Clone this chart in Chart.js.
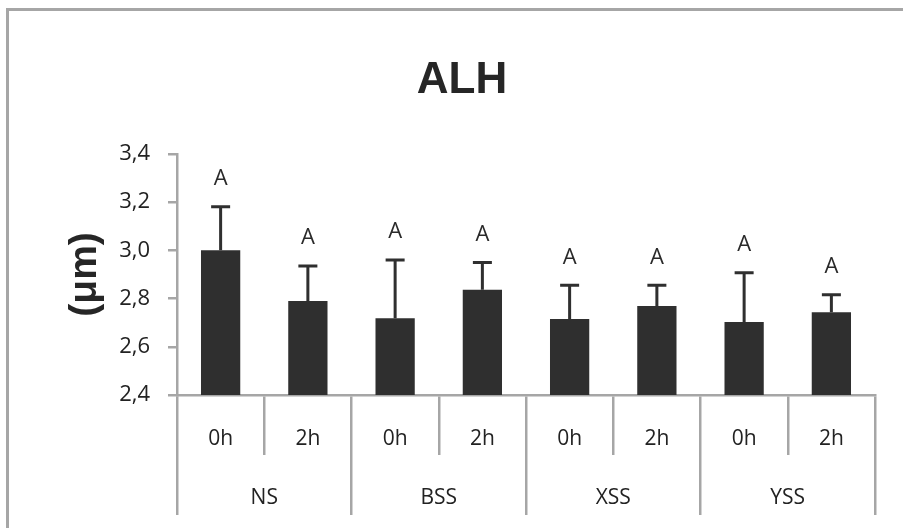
<!DOCTYPE html>
<html>
<head>
<meta charset="utf-8">
<script src="https://cdn.jsdelivr.net/npm/chart.js@4.4.1/dist/chart.umd.min.js"></script>
<style>
  body { margin: 0; background: #fff; }
  #frame { position: absolute; left: 6px; top: 8px; width: 920px; height: 540px; border: 3px solid #a6a6a6; }
  #wrap { position: absolute; left: 0; top: 0; width: 903px; height: 528px; }
</style>
</head>
<body>
<div id="frame"></div>
<div id="wrap"><canvas id="alh_chart"></canvas></div>
<script>
// data
const times = ['0h', '2h', '0h', '2h', '0h', '2h', '0h', '2h'];
const groups = ['NS', 'BSS', 'XSS', 'YSS'];
const means = [3.00, 2.79, 2.718, 2.836, 2.715, 2.769, 2.703, 2.743];
const errors = [0.18, 0.145, 0.242, 0.113, 0.14, 0.086, 0.204, 0.073];
const letters = ['A', 'A', 'A', 'A', 'A', 'A', 'A', 'A'];

const GRAY = '#a6a6a6';
const DARK = '#2f2f2f';

// error bars + letters, placed through the y scale
const errorBars = {
    id: 'errorBars',
    afterDatasetsDraw(chart) {
        const ctx = chart.ctx;
        const y = chart.scales.y;
        const meta = chart.getDatasetMeta(0);
        ctx.save();
        ctx.strokeStyle = DARK;
        ctx.lineWidth = 3;
        meta.data.forEach((bar, i) => {
            const top = y.getPixelForValue(means[i]);
            const hi = y.getPixelForValue(means[i] + errors[i]);
            ctx.beginPath();
            ctx.moveTo(bar.x, top);
            ctx.lineTo(bar.x, hi);
            ctx.moveTo(bar.x - 9.5, hi);
            ctx.lineTo(bar.x + 9.5, hi);
            ctx.stroke();
            ctx.fillStyle = '#2a2a2a';
            ctx.font = '22px "Open Sans", sans-serif';
            ctx.textAlign = 'center';
            ctx.textBaseline = 'middle';
            ctx.fillText(letters[i], bar.x, hi - 28);
        });
        ctx.restore();
    }
};

(function alh_chart()
{
    const sample = document.getElementById('alh_chart');
    const myChart = new Chart(sample, {
        type: 'bar',
        data: {
            labels: times,
            datasets: [{
                data: means,
                backgroundColor: DARK,
                barPercentage: 0.45,
                categoryPercentage: 1.0
            }]
        },
        options: {
            responsive: true,
            maintainAspectRatio: false,
            animation: false,
            layout: { padding: { left: 49, right: 28, top: 20, bottom: 13 } },
            plugins: {
                legend: { display: false },
                tooltip: { enabled: false },
                title: {
                    display: true,
                    text: 'ALH',
                    color: '#262626',
                    font: { family: '"Liberation Sans Narrow", "Liberation Sans", sans-serif', size: 44, weight: 'bold' },
                    padding: { top: 34, bottom: 47 }
                }
            },
            scales: {
                y: {
                    min: 2.4,
                    max: 3.4,
                    afterFit: (s) => { s.width = 128; },
                    ticks: {
                        stepSize: 0.2,
                        padding: 18,
                        color: '#222',
                        font: { family: '"Open Sans", sans-serif', size: 22 },
                        callback: (v) => v.toFixed(1).replace('.', ',')
                    },
                    grid: { drawOnChartArea: false, drawTicks: true, tickLength: 9, color: GRAY, lineWidth: 2.5 },
                    border: { display: true, color: GRAY, width: 2.5 },
                    title: {
                        display: true,
                        text: '(μm)',
                        color: '#262626',
                        font: { family: '"Liberation Sans", sans-serif', size: 39, weight: 'bold' },
                        padding: { top: 13, bottom: 0 }
                    }
                },
                x: {
                    offset: true,
                    afterFit: (s) => { s.height = 60; },
                    ticks: {
                        padding: -29,
                        color: '#222',
                        font: { family: '"Open Sans", sans-serif', size: 21 }
                    },
                    grid: { offset: true, drawOnChartArea: false, drawTicks: true, tickLength: 60, color: GRAY, lineWidth: 2.5 },
                    border: { display: true, color: GRAY, width: 2.5 }
                },
                x2: {
                    type: 'category',
                    labels: groups,
                    position: 'bottom',
                    offset: true,
                    afterFit: (s) => { s.height = 60; },
                    ticks: {
                        padding: -30,
                        color: '#222',
                        font: { family: '"Open Sans", sans-serif', size: 21 }
                    },
                    grid: { offset: true, drawOnChartArea: false, drawTicks: true, tickLength: 60, color: GRAY, lineWidth: 2.5 },
                    border: { display: false }
                }
            }
        },
        plugins: [errorBars]
    });
})();
</script>
</body>
</html>
